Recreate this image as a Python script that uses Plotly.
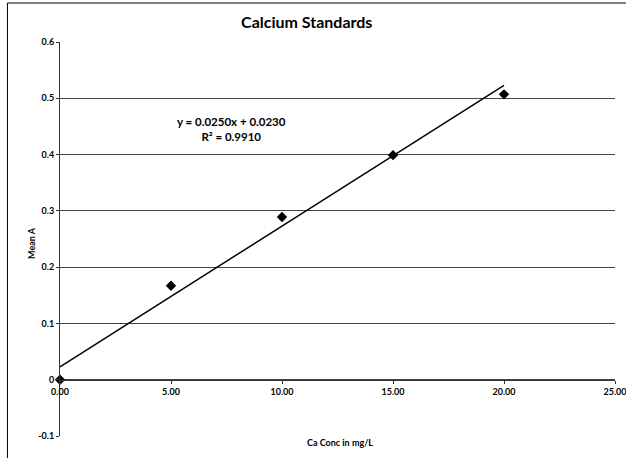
import plotly.graph_objects as go

conc = [0, 5, 10, 15, 20]
mean_a = [0.0, 0.167, 0.289, 0.399, 0.507]
slope = 0.0250
intercept = 0.0230
r2 = 0.9910
fit_x = [0, 20]
fit_y = [intercept + slope * v for v in fit_x]

y_ticks = [-0.1, 0, 0.1, 0.2, 0.3, 0.4, 0.5, 0.6]
y_labels = ["-0.1", "0", "0.1", "0.2", "0.3", "0.4", "0.5", "0.6"]
x_ticks = [0, 5, 10, 15, 20, 25]
x_labels = ["0.00", "5.00", "10.00", "15.00", "20.00", "25.00"]

FONT = "Lato"

fig = go.Figure()
fig.add_trace(go.Scatter(
    x=fit_x, y=fit_y, mode="lines",
    line=dict(color="black", width=1.5), showlegend=False, hoverinfo="skip",
))
fig.add_trace(go.Scatter(
    x=conc, y=mean_a, mode="markers",
    marker=dict(symbol="diamond", size=8, color="black"),
    cliponaxis=False, showlegend=False,
))

fig.update_layout(
    width=626, height=458,
    margin=dict(l=60, r=11, t=42, b=22),
    paper_bgcolor="white", plot_bgcolor="white",
    font=dict(family=FONT, color="black"),
    title=dict(text="<b>Calcium Standards</b>", x=0.49, xref="container",
               y=1 - 22 / 458, yanchor="middle", xanchor="center",
               font=dict(size=16, family=FONT, color="black")),
    xaxis=dict(range=[0, 25], tickvals=x_ticks, ticktext=x_labels,
               showgrid=False, zeroline=False, showline=True, linecolor="#333",
               linewidth=1, ticks="outside", ticklen=3, tickcolor="#333",
               anchor="free", position=1 / 7, ticklabeloverflow="allow",
               automargin=False,
               tickfont=dict(size=9, family=FONT, color="black", weight="bold")),
    yaxis=dict(range=[-0.1, 0.6], tickvals=y_ticks, ticktext=y_labels,
               showgrid=True, gridcolor="#444", gridwidth=1, zeroline=False,
               showline=True, linecolor="#333", linewidth=1,
               ticks="outside", ticklen=3, tickcolor="#333", automargin=False,
               tickfont=dict(size=9, family=FONT, color="black", weight="bold")),
    annotations=[
        dict(text=f"<b>y = {slope:.4f}x + {intercept:.4f}<br>R² = {r2:.4f}</b>",
             x=7.73, y=0.445, xref="x", yref="y", showarrow=False,
             font=dict(size=11.5, family=FONT, color="black"), align="center"),
        dict(text="<b>Mean A</b>", x=-0.064, y=0.49, xref="paper", yref="paper",
             textangle=-90, showarrow=False,
             font=dict(size=9, family=FONT, weight="bold")),
        dict(text="<b>Ca Conc in mg/L</b>", x=0.504, y=-0.0165, xref="paper",
             yref="paper", yanchor="middle", showarrow=False,
             font=dict(size=9, family=FONT, weight="bold")),
    ],
    shapes=[dict(type="rect", xref="paper", yref="paper",
                 x0=-0.0947, x1=1.5, y0=-0.5, y1=1.099,
                 line=dict(color="black", width=1), layer="above")],
)

fig.write_html("out.html")
